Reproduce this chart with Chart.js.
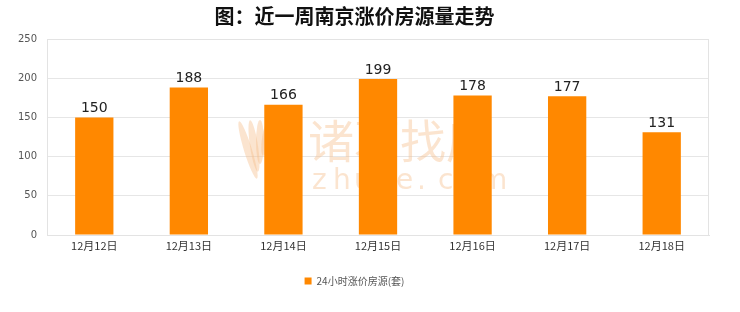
<!DOCTYPE html>
<html>
<head>
<meta charset="utf-8">
<script src="https://cdn.jsdelivr.net/npm/chart.js@4/dist/chart.umd.min.js"></script>
<style>
  html, body { margin: 0; padding: 0; background: #ffffff; }
  #wrap { width: 740px; height: 312px; position: relative; }
</style>
</head>
<body>
<div id="wrap"><canvas id="c" width="740" height="312"></canvas></div>
<script>
// Daily count of listings with a price increase in Nanjing
const categories = ['12月12日', '12月13日', '12月14日', '12月15日', '12月16日', '12月17日', '12月18日'];
const risingListings = [150, 188, 166, 199, 178, 177, 131];
const yTicks = [0, 50, 100, 150, 200, 250];
const seriesName = '24小时涨价房源(套)';
const titleText = '图：近一周南京涨价房源量走势';

const CJK = '"Noto Sans CJK SC", "Noto Sans", sans-serif';

// Faint brand mark behind the bars
const watermark = {
  id: 'watermark',
  beforeDatasetsDraw(chart) {
    const { ctx } = chart;
    ctx.save();
    ctx.fillStyle = 'rgba(245, 190, 140, 0.42)';
    // simple leaf-shaped logo
    for (let i = 0; i < 4; i++) {
      ctx.beginPath();
      ctx.ellipse(248 + i * 6, 150 - i * 4, 4, 30 - i * 4, -0.3 + i * 0.15, 0, Math.PI * 2);
      ctx.fill();
    }
    ctx.font = '46px ' + CJK;
    ctx.textBaseline = 'middle';
    ctx.textAlign = 'left';
    ctx.fillText('诸葛找房', 308, 141);
    ctx.font = '28px "DejaVu Sans", sans-serif';
    const word = 'zhuge.com';
    for (let i = 0; i < word.length; i++) {
      ctx.fillText(word[i], 312 + i * 21, 182);
    }
    ctx.restore();
  }
};

// Thin frame round the plot area
const frame = {
  id: 'frame',
  beforeDatasetsDraw(chart) {
    const { ctx, chartArea: a } = chart;
    ctx.save();
    ctx.strokeStyle = '#e3e3e3';
    ctx.lineWidth = 1;
    ctx.strokeRect(Math.round(a.left) + 0.5, Math.round(a.top) + 0.5,
                   Math.round(a.right - a.left) - 1, Math.round(a.bottom - a.top));
    ctx.restore();
  }
};

// Value labels above each bar
const valueLabels = {
  id: 'valueLabels',
  afterDatasetsDraw(chart) {
    const { ctx } = chart;
    const meta = chart.getDatasetMeta(0);
    ctx.save();
    ctx.font = '14px "DejaVu Sans", sans-serif';
    ctx.fillStyle = '#222';
    ctx.textAlign = 'center';
    ctx.textBaseline = 'bottom';
    meta.data.forEach((bar, i) => {
      ctx.fillText(String(risingListings[i]), bar.x, bar.y - 2);
    });
    ctx.restore();
  }
};

new Chart(document.getElementById('c'), {
  type: 'bar',
  data: {
    labels: categories,
    datasets: [{
      label: seriesName,
      data: risingListings,
      backgroundColor: '#ff8800',
      borderWidth: 0,
      categoryPercentage: 1,
      barPercentage: 0.405
    }]
  },
  options: {
    responsive: false,
    animation: false,
    devicePixelRatio: 1,
    layout: { padding: { left: 0, right: 31, top: 4, bottom: 16 } },
    plugins: {
      title: {
        display: true,
        text: titleText,
        color: '#111',
        font: { family: CJK, size: 20, weight: 'bold' },
        padding: { top: 0, bottom: 11 }
      },
      legend: {
        position: 'bottom',
        labels: {
          boxWidth: 7,
          boxHeight: 7,
          color: '#555',
          font: { family: CJK, size: 10 },
          padding: 6
        }
      },
      tooltip: { enabled: false }
    },
    scales: {
      x: {
        grid: { display: false, drawTicks: false },
        border: { color: '#e3e3e3' },
        ticks: {
          color: '#333',
          font: { family: CJK, size: 11 },
          padding: 4,
          maxRotation: 0
        },
        afterFit(s) { s.height = 35; }
      },
      y: {
        min: 0,
        max: 250,
        afterBuildTicks(s) { s.ticks = yTicks.map(v => ({ value: v })); },
        grid: { color: '#e6e6e6', drawTicks: false },
        border: { color: '#e3e3e3' },
        ticks: {
          color: '#555',
          font: { family: '"DejaVu Sans", sans-serif', size: 10 },
          padding: 10
        },
        afterFit(s) { s.width = 47; }
      }
    }
  },
  plugins: [watermark, frame, valueLabels]
});
</script>
</body>
</html>
